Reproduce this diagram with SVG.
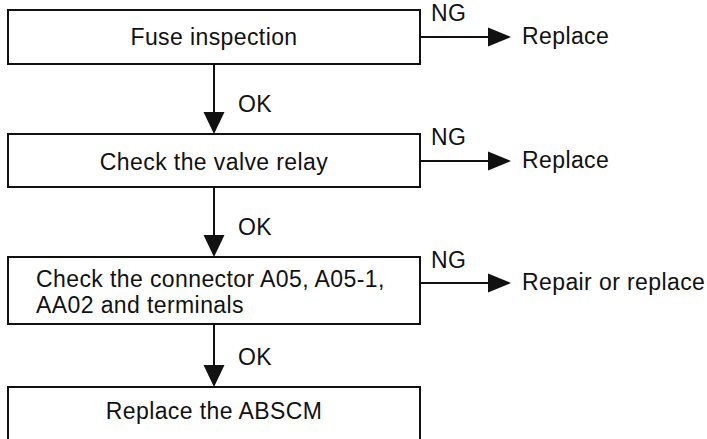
<svg xmlns="http://www.w3.org/2000/svg" width="707" height="439" viewBox="0 0 707 439">
<style>
.box{fill:#fff;stroke:#111;stroke-width:2}
.t{font-family:"Liberation Sans",Arial,sans-serif;font-size:23px;letter-spacing:0.4px;fill:#111}
.c{text-anchor:middle}
.ln{stroke:#111;stroke-width:2;fill:none}
.hd{fill:#111}
</style>
<defs>
<polygon id="down" points="-10.5,-22 10.5,-22 0,0" class="hd"/>
<polygon id="right" points="-23,-9.5 -23,9.5 0,0" class="hd"/>
</defs>
<rect width="707" height="439" fill="#fff"/>
<g id="connectors">
<line class="ln" x1="214" y1="64" x2="214" y2="115"/>
<use href="#down" x="214" y="134"/>
<text class="t" x="238" y="112">OK</text>
<line class="ln" x1="214" y1="187" x2="214" y2="238"/>
<use href="#down" x="214" y="257"/>
<text class="t" x="238" y="235">OK</text>
<line class="ln" x1="214" y1="324" x2="214" y2="368"/>
<use href="#down" x="214" y="387"/>
<text class="t" x="238" y="365">OK</text>
<line class="ln" x1="420" y1="37" x2="492" y2="37"/>
<use href="#right" x="511" y="37"/>
<text class="t" x="431" y="21">NG</text>
<line class="ln" x1="420" y1="161" x2="492" y2="161"/>
<use href="#right" x="511" y="161"/>
<text class="t" x="431" y="145">NG</text>
<line class="ln" x1="420" y1="283" x2="492" y2="283"/>
<use href="#right" x="511" y="283"/>
<text class="t" x="431" y="268">NG</text>
</g>
<g id="n1">
<rect class="box" x="8" y="10" width="412" height="54"/>
<text class="t c" x="214" y="45">Fuse inspection</text>
</g>
<g id="r1"><text class="t" x="522" y="44">Replace</text></g>
<g id="n2">
<rect class="box" x="8" y="134" width="412" height="53"/>
<text class="t c" x="214" y="170">Check the valve relay</text>
</g>
<g id="r2"><text class="t" x="522" y="168">Replace</text></g>
<g id="n3">
<rect class="box" x="8" y="257" width="412" height="67"/>
<text class="t" x="36" y="287">Check the connector A05, A05-1,</text>
<text class="t" x="36" y="313">AA02 and terminals</text>
</g>
<g id="r3"><text class="t" x="522" y="290">Repair or replace</text></g>
<g id="n4">
<rect class="box" x="8" y="387" width="412" height="70"/>
<text class="t c" x="214" y="419">Replace the ABSCM</text>
</g>
</svg>
